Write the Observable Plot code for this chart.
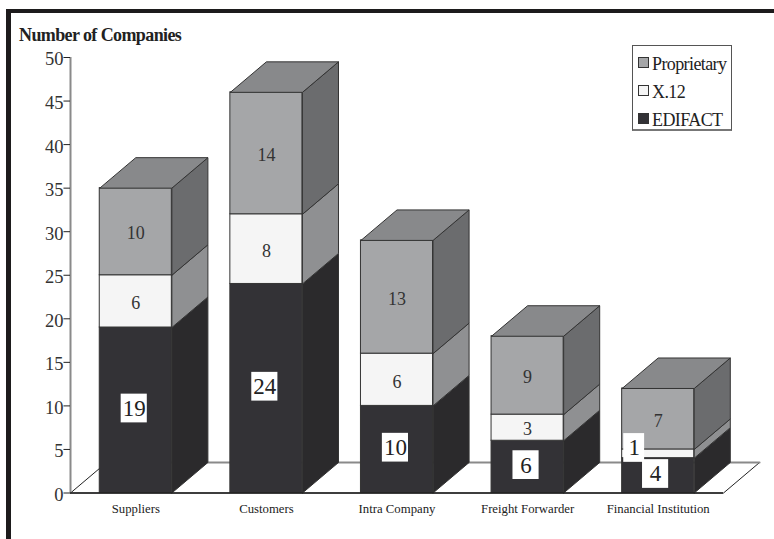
<!DOCTYPE html>
<html><head><meta charset="utf-8">
<script src="https://cdn.jsdelivr.net/npm/d3@7"></script>
<script src="https://cdn.jsdelivr.net/npm/@observablehq/plot@0.6"></script>
<style>
html,body{margin:0;padding:0;background:#fff}
#wrap{position:relative;width:774px;height:539px;overflow:hidden;font-family:"Liberation Serif",serif;color:#222}
#frame{position:absolute;left:6px;top:9px;right:0;bottom:0;border-top:4px solid #1d1b1c;border-left:5px solid #1d1b1c}
#title{position:absolute;left:19px;top:25px;font-weight:bold;font-size:18px;letter-spacing:-.6px;color:#222}
#legend{position:absolute;left:632px;top:45px;width:98px;height:83px;border:1px solid #555;border-bottom:2px solid #777;background:#fff;font-size:18px;letter-spacing:-.6px;box-sizing:content-box}
#legend div{position:absolute;left:5px;height:28px;line-height:28px;white-space:nowrap}
#legend i{display:inline-block;width:9px;height:9px;border:1px solid #333;margin-right:3px;vertical-align:2px}
#plot{position:absolute;left:0;top:0}
</style></head><body>
<div id="wrap"><div id="frame"></div><div id="plot"></div><div id="title">Number of Companies</div><div id="legend"></div></div>
<script>
const categories = ["Suppliers","Customers","Intra Company","Freight Forwarder","Financial Institution"];
const edifact = [19,24,10,6,4];
const x12 = [6,8,6,3,1];
const proprietary = [10,14,13,9,7];
const yTicks = [0,5,10,15,20,25,30,35,40,45,50];
const seriesNames = ["EDIFACT","X.12","Proprietary"];
const seriesValues = [edifact,x12,proprietary];
const frontColors = ["#333236","#f5f5f5","#a5a6a8"];
const sideColors = ["#2b2a2c","#8f9092","#6b6c6e"];
const topColor = "#88898b";
const halfBar = 0.276, depthX = 0.276, depthY = 3.5;
const boxH = 1.65;

const fronts = [], polys = [], labels = [], boxes = [];
categories.forEach((c,i)=>{
  let base = 0;
  seriesValues.forEach((vals,s)=>{
    const v = vals[i], y0 = base, y1 = base+v;
    fronts.push({x1:i-halfBar,x2:i+halfBar,y1:y0,y2:y1,fill:frontColors[s]});
    const R = i+halfBar, id=`s${i}-${s}`;
    [[R,y0],[R+depthX,y0+depthY],[R+depthX,y1+depthY],[R,y1],[R,y0]].forEach(([x,y])=>polys.push({id,x,y,fill:sideColors[s]}));
    const boxed = s===0 || (i===4 && s===1);
    const isOne = i===4 && s===1, isFour = i===4 && s===0;
    const dx = isOne ? -0.184 : isFour ? -0.02 : boxed ? -0.012 : 0;
    const lift = isOne ? 0.67 : isFour ? 0.18 : boxed ? 0.2 : 0;
    const cy = (y0+y1)/2 + lift;
    const hw = isOne ? 0.08 : 0.1;
    labels.push({x:i+dx,y:cy,t:String(v),boxed});
    if(boxed) boxes.push({x1:i+dx-hw,x2:i+dx+hw,y1:cy-boxH,y2:cy+boxH});
    base = y1;
  });
  const L=i-halfBar,R=i+halfBar,id=`t${i}`;
  [[L,base],[R,base],[R+depthX,base+depthY],[L+depthX,base+depthY],[L,base]].forEach(([x,y])=>polys.push({id,x,y,fill:topColor}));
});
const floor = [[-.5,0],[4.5,0],[4.5+depthX,depthY],[-.5+depthX,depthY]].map(([x,y])=>({x,y}));
const floorClosed = floor.concat(floor[0]);

const chart = Plot.plot({
  width:774,height:539,marginLeft:70,marginRight:51,marginTop:57,marginBottom:46.5,
  style:{background:"transparent",fontFamily:"'Liberation Serif',serif",overflow:"visible"},
  x:{type:"linear",domain:[-.5,4.5],axis:null},
  y:{type:"linear",domain:[0,50],axis:null},
  color:{type:"identity"},
  marks:[
    Plot.line(floorClosed,{x:"x",y:"y",fill:"#fff",stroke:"#222",strokeWidth:1}),
    Plot.line(floor.slice(2,4),{x:"x",y:"y",stroke:"#8a8a8a",strokeWidth:2}),
    Plot.ruleX([-.5],{y1:0,y2:50,stroke:"#8a8a8a",strokeWidth:2}),
    Plot.ruleY(yTicks,{y:d=>d,x1:-.5-0.05,x2:-.5,stroke:"#222",strokeWidth:1}),
    Plot.rect(fronts,{x1:"x1",x2:"x2",y1:"y1",y2:"y2",fill:"fill",stroke:"#333",strokeWidth:1}),
    Plot.line(polys,{x:"x",y:"y",z:"id",fill:"fill",stroke:"#333",strokeWidth:1}),
    Plot.ruleY([0],{x1:-.5,x2:4.5,stroke:"#222",strokeWidth:1.5}),
    Plot.rect(boxes,{x1:"x1",x2:"x2",y1:"y1",y2:"y2",fill:"#fff"}),
    Plot.text(labels.filter(d=>!d.boxed),{x:"x",y:"y",text:"t",dy:2,fontSize:18,fill:"#333",fontFamily:"'Liberation Serif',serif"}),
    Plot.text(labels.filter(d=>d.boxed),{x:"x",y:"y",text:"t",fontSize:23,fill:"#222",fontFamily:"'Liberation Serif',serif"}),
    Plot.text(yTicks,{x:-.5,y:d=>d,text:d=>String(d),dx:-7,dy:2,textAnchor:"end",fontSize:18.5,fill:"#333",fontFamily:"'Liberation Serif',serif"}),
    Plot.text(categories,{x:(d,i)=>i,y:0,text:d=>d,dy:16,fontSize:12.75,fill:"#222",fontFamily:"'Liberation Serif',serif"})
  ]
});
document.getElementById("plot").append(chart);

const lg=document.getElementById("legend");
[2,1,0].forEach((s,k)=>{
  const row=document.createElement("div");
  row.style.top=(4+k*28)+"px";
  row.innerHTML=`<i style="background:${frontColors[s]}"></i>${seriesNames[s]}`;
  lg.append(row);
});
</script></body></html>
